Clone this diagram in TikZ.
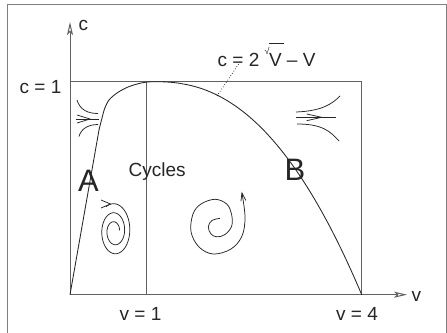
\documentclass[tikz,border=0pt]{standalone}
\usepackage{fontspec}
\setmainfont{Liberation Sans}
\usetikzlibrary{arrows.meta}
\begin{document}
\begin{tikzpicture}[x=1pt,y=-1pt,
  frame/.style={draw=black!50, line width=0.8pt},
  axis/.style={draw=black!62, line width=1pt},
  curvestyle/.style={draw=black!85, line width=0.85pt},
  flow/.style={draw=black!85, line width=0.75pt},
  lab/.style={font=\fontsize{19}{19}\selectfont, inner sep=0pt, anchor=base west, text=black!85},
  biglab/.style={font=\fontsize{31}{31}\selectfont, inner sep=0pt, anchor=base west, text=black!85},
  axtip/.style={-{Stealth[open,length=13pt,width=6pt,inset=3pt]}}
]
\useasboundingbox (0,0) rectangle (447,332);
\fill[white] (0,0) rectangle (447,332);
\draw[frame] (7,4) rectangle (446,340);

\coordinate (O) at (70,294.7);
\coordinate (Ytop) at (70,22);
\coordinate (Xend) at (407,294.7);
\coordinate (V1b) at (146,294.7);
\coordinate (V1t) at (146,81.7);
\coordinate (C1) at (70,81.7);
\coordinate (V4t) at (361.7,81.7);
\coordinate (V4b) at (361.7,294.7);

\draw[axis,axtip] (O) -- (Ytop);
\draw[axis,axtip] (O) -- (Xend);
\draw[axis] (C1) -- (V4t) -- (V4b);
\draw[axis] (V1b) -- (V1t);

% curve c = 2 sqrt(v) - v
\draw[curvestyle] (O) -- plot[smooth] coordinates {(99,130) (101.5,120) (104.5,109) (109,100) (117,93) (128,87) (141,83) (150,81.8) (155,81.7)}
  -- plot[domain=155.5:361.7, samples=80] (\x, {81.7+213*((\x-155)/206.7)^2.3});

% dotted pointer
\coordinate (dA) at (217,96);
\coordinate (dB) at (240,62);
\draw[dotted, line width=0.7pt] (dA) -- (dB);

% labels
\node[lab] (clab) at (78.5,30.7) {c};
\node[lab] (c1) at (19.5,93.3) {c = 1};
\node[lab] (v1) at (119.5,320) {v = 1};
\node[lab] (v4) at (336,320) {v = 4};
\node[lab] (vlab) at (411.5,301.7) {v};
\node[lab] (cyc) at (128.5,176) {Cycles};
\node[biglab] (A) at (78,191.7) {A};
\node[biglab] (B) at (284.3,180) {B};
\node[lab] (eq) at (217.5,66) {c = 2 \raisebox{12pt}{\fontsize{9}{9}\selectfont √}\kern-0.6pt\rlap{\raisebox{22pt}{\rule{15pt}{0.6pt}}}V – V};

% left flow
\draw[flow] (77,100) .. controls (80,110) and (88,113.5) .. (98,113.5);
\draw[flow] (98,124.5) .. controls (88,124.5) and (81,129) .. (79,136.5);
\draw[flow] (76,119) -- (99,119);
\draw[flow] (77,115) -- (90,119) -- (77,123);

% right flow
\draw[flow] (296,112) .. controls (322,111) and (332,104) .. (340,96);
\draw[flow] (296,117.3) -- (336,117.3);
\draw[flow] (297,124) .. controls (322,124) and (330,131) .. (339,141);
\draw[flow] (306.7,114) -- (321.7,117.3) -- (306.7,120.7);

% left spiral
\draw[flow] plot[domain=0:1, samples=160, smooth, variable=\s] ({114.5+(17-12*\s)*cos(240+835*\s)}, {231+(28-21*\s)*sin(240+835*\s)});
\draw[flow] (101,200) -- (110.5,204) -- (101,208);

% right spiral
\draw[flow, -{Straight Barb[length=8pt,width=5pt]}] plot[smooth, tension=0.6] coordinates {(220,218.3) (212,220.5) (208.3,226.7) (211,234) (217,236.8) (225,234.5) (231.7,226) (231.5,214) (226.7,204) (215,199.3) (201,204) (193,214) (191,231.7) (199,247) (213.3,254) (231,249) (242,236) (245,216.7) (241.7,191.7)};
\end{tikzpicture}
\end{document}
